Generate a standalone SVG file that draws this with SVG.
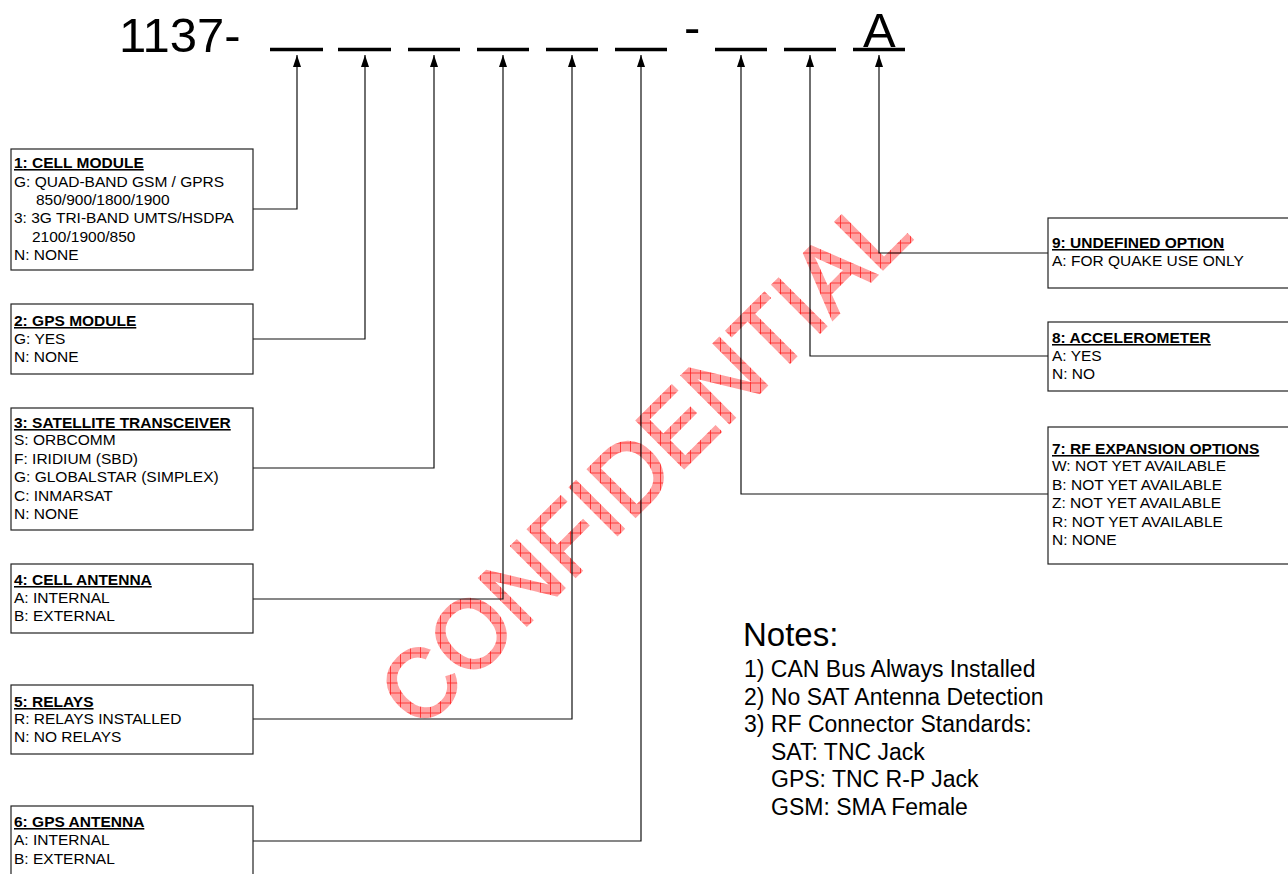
<svg xmlns="http://www.w3.org/2000/svg" width="1288" height="874" viewBox="0 0 1288 874">
<style>
.box{fill:#fff;stroke:#222;stroke-width:1.2}
.t{font-family:"Liberation Sans",Arial,sans-serif;font-size:15.5px;fill:#000}
.h{font-weight:bold;text-decoration:underline}
.conn{fill:none;stroke:#111;stroke-width:1.2}
.ul{stroke:#000;stroke-width:3.5}
.big{font-family:"Liberation Sans",Arial,sans-serif;font-size:49px;fill:#000}
.note{font-family:"Liberation Sans",Arial,sans-serif;font-size:23px;fill:#000}
.ntitle{font-family:"Liberation Sans",Arial,sans-serif;font-size:33px;fill:#000}
</style>
<defs>
<marker id="arr" viewBox="0 0 10 12" refX="5" refY="0" markerWidth="10" markerHeight="12" markerUnits="userSpaceOnUse" orient="0">
<path d="M1,12 L5,0 L9,12 Z" fill="#000"/>
</marker>
<pattern id="hatch" patternUnits="userSpaceOnUse" width="10" height="10" patternTransform="rotate(45)">
<rect width="10" height="10" fill="#ffa2a2"/>
<path d="M0,0.5 H10 M0.5,0 V10" stroke="#ff2020" stroke-width="0.8"/>
</pattern>
</defs>
<rect width="1288" height="874" fill="#fff"/>
<g id="watermark">
<text x="0" y="0" transform="translate(420,732.5) rotate(-45)" font-family="'Liberation Sans',Arial,sans-serif" font-size="98" textLength="700" lengthAdjust="spacingAndGlyphs" fill="url(#hatch)" stroke="url(#hatch)" stroke-width="2">CONFIDENTIAL</text>
</g>
<g id="header">
<text class="big" x="119" y="52">1137-</text>
<text class="big" x="684" y="44">-</text>
<text class="big" x="863" y="47">A</text>
<g>
<line class="ul" x1="270" y1="49.5" x2="323" y2="49.5"/>
<line class="ul" x1="338" y1="49.5" x2="391" y2="49.5"/>
<line class="ul" x1="408" y1="49.5" x2="460" y2="49.5"/>
<line class="ul" x1="477" y1="49.5" x2="529" y2="49.5"/>
<line class="ul" x1="546" y1="49.5" x2="598" y2="49.5"/>
<line class="ul" x1="615" y1="49.5" x2="667" y2="49.5"/>
<line class="ul" x1="715" y1="49.5" x2="767" y2="49.5"/>
<line class="ul" x1="784" y1="49.5" x2="836" y2="49.5"/>
<line class="ul" x1="853" y1="49.5" x2="905" y2="49.5"/>
</g>
</g>
<g id="connectors">
<path class="conn" marker-start="url(#arr)" d="M297,55 V209 H253"/>
<path class="conn" marker-start="url(#arr)" d="M365,55 V339 H253"/>
<path class="conn" marker-start="url(#arr)" d="M434,55 V468 H253"/>
<path class="conn" marker-start="url(#arr)" d="M503,55 V599 H253"/>
<path class="conn" marker-start="url(#arr)" d="M572,55 V719 H253"/>
<path class="conn" marker-start="url(#arr)" d="M641,55 V841 H253"/>
<path class="conn" marker-start="url(#arr)" d="M741,55 V494 H1048"/>
<path class="conn" marker-start="url(#arr)" d="M810,55 V356 H1048"/>
<path class="conn" marker-start="url(#arr)" d="M879,55 V253 H1048"/>
</g>
<g id="box1">
<rect class="box" x="11" y="149" width="242" height="121"/>
<text class="t h" x="14" y="168">1: CELL MODULE</text>
<text class="t" x="14" y="187">G: QUAD-BAND GSM / GPRS</text>
<text class="t" x="36" y="205">850/900/1800/1900</text>
<text class="t" x="14" y="223">3: 3G TRI-BAND UMTS/HSDPA</text>
<text class="t" x="32" y="242">2100/1900/850</text>
<text class="t" x="14" y="260">N: NONE</text>
</g>
<g id="box2">
<rect class="box" x="11" y="304" width="242" height="70"/>
<text class="t h" x="14" y="326">2: GPS MODULE</text>
<text class="t" x="14" y="344">G: YES</text>
<text class="t" x="14" y="362">N: NONE</text>
</g>
<g id="box3">
<rect class="box" x="11" y="408" width="242" height="122"/>
<text class="t h" x="14" y="428">3: SATELLITE TRANSCEIVER</text>
<text class="t" x="14" y="445">S: ORBCOMM</text>
<text class="t" x="14" y="464">F: IRIDIUM (SBD)</text>
<text class="t" x="14" y="482">G: GLOBALSTAR (SIMPLEX)</text>
<text class="t" x="14" y="501">C: INMARSAT</text>
<text class="t" x="14" y="519">N: NONE</text>
</g>
<g id="box4">
<rect class="box" x="11" y="564" width="242" height="69"/>
<text class="t h" x="14" y="585">4: CELL ANTENNA</text>
<text class="t" x="14" y="603">A: INTERNAL</text>
<text class="t" x="14" y="621">B: EXTERNAL</text>
</g>
<g id="box5">
<rect class="box" x="11" y="685" width="242" height="69"/>
<text class="t h" x="14" y="707">5: RELAYS</text>
<text class="t" x="14" y="724">R: RELAYS INSTALLED</text>
<text class="t" x="14" y="742">N: NO RELAYS</text>
</g>
<g id="box6">
<rect class="box" x="11" y="806" width="242" height="80"/>
<text class="t h" x="14" y="827">6: GPS ANTENNA</text>
<text class="t" x="14" y="845">A: INTERNAL</text>
<text class="t" x="14" y="864">B: EXTERNAL</text>
</g>
<g id="box9">
<rect class="box" x="1048" y="218" width="250" height="70"/>
<text class="t h" x="1052" y="248">9: UNDEFINED OPTION</text>
<text class="t" x="1052" y="266">A: FOR QUAKE USE ONLY</text>
</g>
<g id="box8">
<rect class="box" x="1048" y="322" width="250" height="69"/>
<text class="t h" x="1052" y="343">8: ACCELEROMETER</text>
<text class="t" x="1052" y="361">A: YES</text>
<text class="t" x="1052" y="379">N: NO</text>
</g>
<g id="box7">
<rect class="box" x="1048" y="427" width="250" height="137"/>
<text class="t h" x="1052" y="454">7: RF EXPANSION OPTIONS</text>
<text class="t" x="1052" y="471">W: NOT YET AVAILABLE</text>
<text class="t" x="1052" y="490">B: NOT YET AVAILABLE</text>
<text class="t" x="1052" y="508">Z: NOT YET AVAILABLE</text>
<text class="t" x="1052" y="527">R: NOT YET AVAILABLE</text>
<text class="t" x="1052" y="545">N: NONE</text>
</g>
<g id="notes">
<text class="ntitle" x="743" y="646">Notes:</text>
<text class="note" x="744" y="677">1) CAN Bus Always Installed</text>
<text class="note" x="744" y="705">2) No SAT Antenna Detection</text>
<text class="note" x="744" y="732">3) RF Connector Standards:</text>
<text class="note" x="771" y="760">SAT: TNC Jack</text>
<text class="note" x="771" y="787">GPS: TNC R-P Jack</text>
<text class="note" x="771" y="815">GSM: SMA Female</text>
</g>
</svg>
